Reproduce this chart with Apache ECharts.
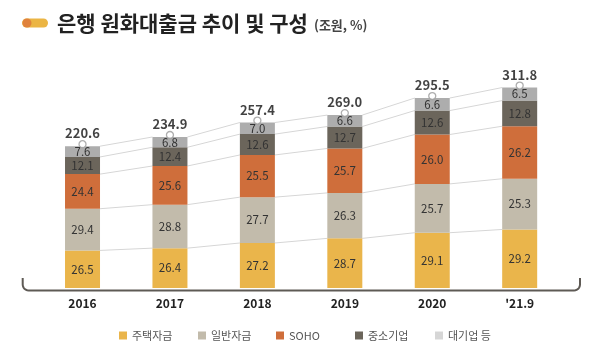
<!DOCTYPE html>
<html><head><meta charset="utf-8">
<script src="https://cdn.jsdelivr.net/npm/echarts@6/dist/echarts.min.js"></script>
<style>html,body{margin:0;padding:0;background:#fff}#c{width:600px;height:355px}</style>
</head><body><div id="c"></div>
<script>
var years = ['2016', '2017', '2018', '2019', '2020', "'21.9"];
var totals = [220.6, 234.9, 257.4, 269.0, 295.5, 311.8];
var housing = [26.5, 26.4, 27.2, 28.7, 29.1, 29.2];
var general = [29.4, 28.8, 27.7, 26.3, 25.7, 25.3];
var soho = [24.4, 25.6, 25.5, 25.7, 26.0, 26.2];
var sme = [12.1, 12.4, 12.6, 12.7, 12.6, 12.8];
var large = [7.6, 6.8, 7.0, 6.6, 6.6, 6.5];
var names = ['주택자금', '일반자금', 'SOHO', '중소기업', '대기업 등'];
var colors = ['#EAB54B', '#C2BBAB', '#CF6E3B', '#6B655B', '#ADADAD'];
var legendColors = ['#EAB54B', '#C2BBAB', '#CF6E3B', '#6B655B', '#D6D6D6'];

var FONT = "'Noto Sans CJK KR', 'Noto Sans', sans-serif";
var pcts = [housing, general, soho, sme, large];
var BARW = 35;

var cum = years.map(function (y, i) {
  var acc = 0, out = [];
  pcts.forEach(function (arr) { acc += arr[i] * totals[i] / 100; out.push(acc); });
  return out;
});

var barSeries = pcts.map(function (arr, k) {
  return {
    name: names[k], type: 'bar', stack: 'a', barWidth: BARW, z: 3,
    itemStyle: { color: colors[k] },
    data: arr.map(function (p, i) { return p * totals[i] / 100; }),
    label: {
      show: true, position: 'inside', color: '#333', fontSize: 11.5, fontFamily: FONT,
      formatter: function (pr) { return arr[pr.dataIndex].toFixed(1); }
    }
  };
});

var connectData = [];
for (var i = 0; i < years.length - 1; i++) connectData.push([i, totals[i]]);

function bracketPoints() {
  var pts = [[22.7, 278]];
  var r = 6, yb = 290.5, xl = 22.7, xr = 580;
  for (var a = 180; a >= 90; a -= 15) {
    var t = a * Math.PI / 180;
    pts.push([xl + r + r * Math.cos(t), yb - r + r * Math.sin(t)]);
  }
  for (var b = 90; b >= 0; b -= 15) {
    var u = b * Math.PI / 180;
    pts.push([xr - r + r * Math.cos(u), yb - r + r * Math.sin(u)]);
  }
  pts.push([xr, 278]);
  return pts;
}

var option = {
  animation: false,
  textStyle: { fontFamily: FONT },
  grid: { left: 38.8, right: 36.6, top: 63, bottom: 67 },
  xAxis: {
    type: 'category', data: years,
    axisLine: { show: false }, axisTick: { show: false },
    axisLabel: { color: '#222', fontSize: 12, fontWeight: 'bold', margin: 9, fontFamily: FONT }
  },
  yAxis: { type: 'value', min: 0, max: 350, show: false, splitLine: { show: false } },
  title: {
    left: 52, top: 8,
    text: '{a|은행 원화대출금 추이 및 구성} {b|(조원, %)}',
    textStyle: {
      rich: {
        a: { fontSize: 21, fontWeight: 'bold', color: '#222', fontFamily: FONT },
        b: { fontSize: 13, color: '#444', fontFamily: FONT, padding: [4, 0, 0, 2] }
      }
    }
  },
  legend: names.map(function (n, k) {
    var lefts = [119, 198, 276, 355, 435];
    return {
      left: lefts[k], top: 330, padding: 0, itemWidth: 8, itemHeight: 8, icon: 'rect',
      textStyle: { fontSize: 11, color: '#555', fontFamily: FONT },
      data: [{ name: n, itemStyle: { color: legendColors[k] } }]
    };
  }),
  graphic: [
    {
      type: 'polyline', z: 10,
      shape: { points: bracketPoints() },
      style: { stroke: '#5E5A55', lineWidth: 2, fill: null }
    },
    {
      type: 'rect', shape: { x: 22, y: 18.5, width: 26, height: 9, r: 4.5 },
      style: { fill: '#EBB544' }
    },
    {
      type: 'circle', shape: { cx: 27, cy: 23, r: 4.5 },
      style: { fill: '#E0823C' }
    }
  ],
  series: barSeries.concat([
    {
      type: 'custom', z: 1, silent: true,
      data: connectData,
      encode: { x: 0, y: 1 },
      renderItem: function (params, api) {
        var idx = api.value(0);
        var children = [];
        for (var k = 0; k < 5; k++) {
          var c = api.coord([idx, cum[idx][k]]);
          var d = api.coord([idx + 1, cum[idx + 1][k]]);
          children.push({
            type: 'line',
            shape: { x1: c[0] + BARW / 2, y1: c[1], x2: d[0] - BARW / 2, y2: d[1] },
            style: { stroke: '#D6D6D6', lineWidth: 1 }
          });
        }
        return { type: 'group', children: children };
      }
    },
    {
      type: 'scatter', z: 5, silent: true,
      data: totals,
      symbol: 'circle', symbolSize: 7, symbolOffset: [0, -2],
      itemStyle: { color: '#fff', borderColor: '#9A9A9A', borderWidth: 1.3 },
      label: {
        show: true, position: 'top', distance: 0, color: '#111', fontSize: 13,
        fontWeight: 'bold', fontFamily: FONT,
        formatter: function (p) { return totals[p.dataIndex].toFixed(1); }
      }
    }
  ])
};
var chart = echarts.init(document.getElementById('c'), null, { renderer: 'canvas' });
chart.setOption(option);
</script></body></html>
